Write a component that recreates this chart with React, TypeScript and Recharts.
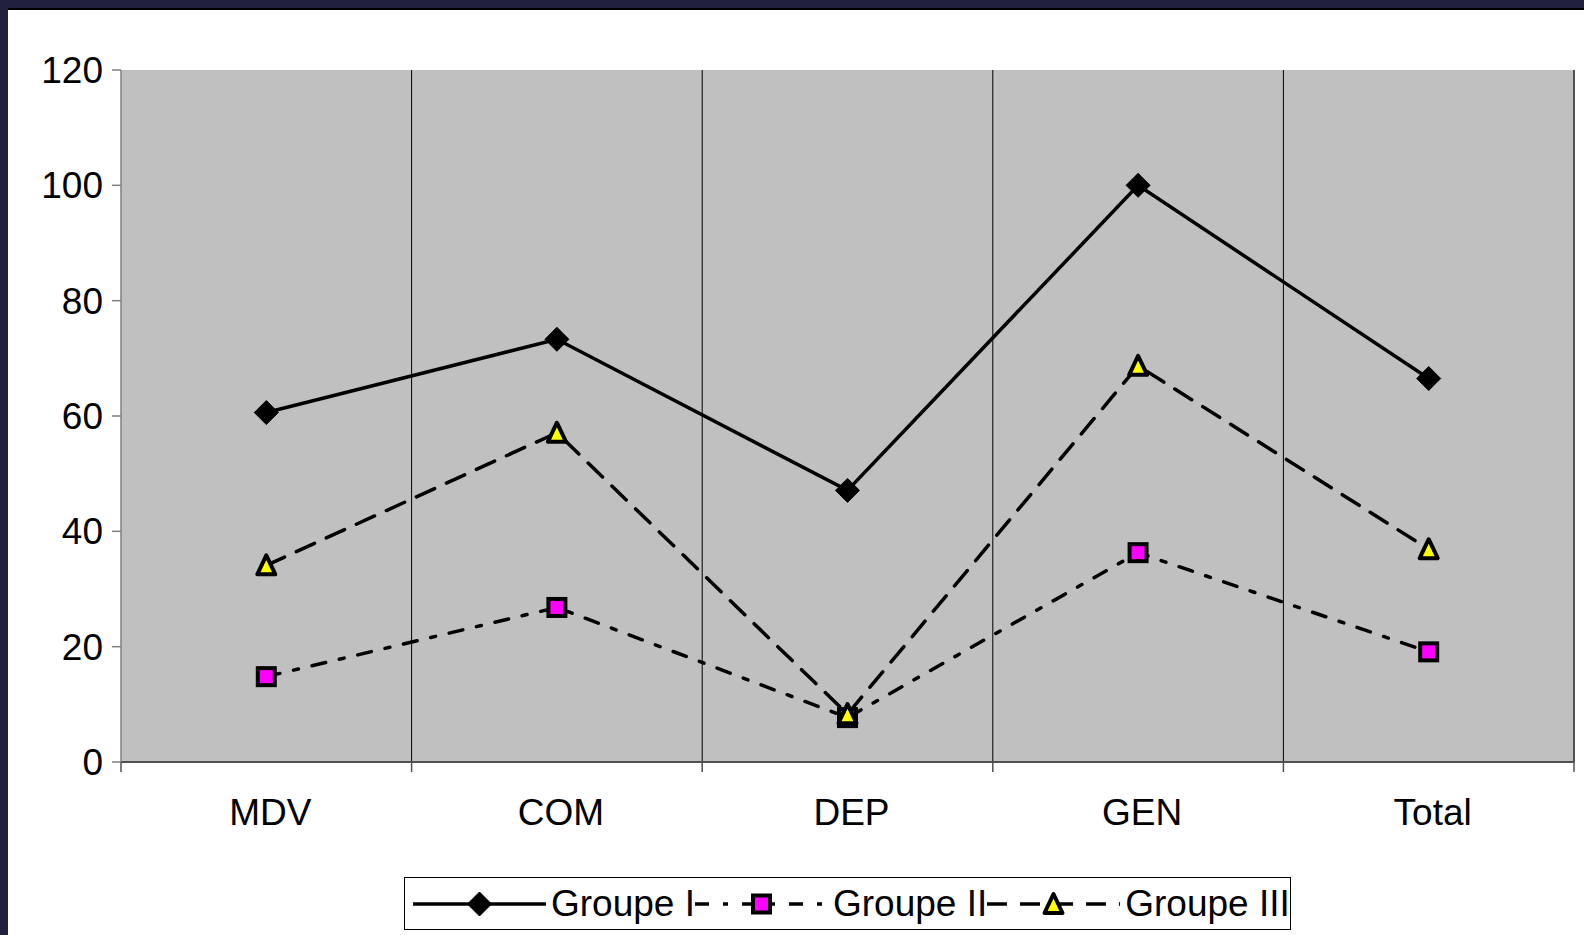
import React from 'react'
import {
  LineChart,
  Line,
  XAxis,
  YAxis,
  CartesianGrid,
  Legend,
  ReferenceLine,
} from 'recharts'

const categories = ['MDV', 'COM', 'DEP', 'GEN', 'Total']
const groupeI = [60.6, 73.3, 47.1, 100, 66.5]
const groupeII = [14.8, 26.8, 7.7, 36.3, 19.1]
const groupeIII = [34.1, 57.1, 8.3, 68.7, 36.9]
const yTicks = [0, 20, 40, 60, 80, 100, 120]

const data = categories.map((name, i) => ({
  name,
  g1: groupeI[i],
  g2: groupeII[i],
  g3: groupeIII[i],
}))

const FONT = '"Liberation Sans", Arial, sans-serif'
const LINE_W = 3.5
const AXIS_COLOR = '#505050'
const X_TICK_SIZE = 10
const X_TICK_MARGIN = 27

type DotProps = { cx?: number; cy?: number; index?: number }

const diamond = (cx: number, cy: number, key?: React.Key) => (
  <path
    key={key}
    d={`M${cx},${cy - 12}L${cx + 12},${cy}L${cx},${cy + 12}L${cx - 12},${cy}Z`}
    fill="#000"
    stroke="#000"
    strokeWidth={1}
    strokeLinejoin="round"
  />
)

const square = (cx: number, cy: number, key?: React.Key) => (
  <rect
    key={key}
    x={cx - 8.5}
    y={cy - 8.5}
    width={17}
    height={17}
    fill="#ff00ff"
    stroke="#000"
    strokeWidth={4}
  />
)

const triangle = (cx: number, cy: number, key?: React.Key) => (
  <path
    key={key}
    d={`M${cx},${cy - 10}L${cx + 9},${cy + 9}L${cx - 9},${cy + 9}Z`}
    fill="#ffff00"
    stroke="#000"
    strokeWidth={4}
    strokeLinejoin="round"
  />
)

const series = [
  { key: 'g1', name: 'Groupe I', dash: undefined, marker: diamond },
  { key: 'g2', name: 'Groupe II', dash: '14 14 5 14', marker: square },
  { key: 'g3', name: 'Groupe III', dash: '20 13', marker: triangle },
]

// label in the middle of the band, tick marks on the band edges
const CategoryTick = (props: any) => {
  const { x, y, payload, index, visibleTicksCount } = props
  const half = payload?.offset ?? 0
  const y0 = y - X_TICK_MARGIN - X_TICK_SIZE
  const mark = (px: number) => (
    <line x1={px} x2={px} y1={y0} y2={y0 + X_TICK_SIZE} stroke={AXIS_COLOR} strokeWidth={1.5} />
  )
  return (
    <g>
      {mark(x - half)}
      {index === visibleTicksCount - 1 && mark(x + half)}
      <text
        x={x + 4}
        y={y}
        dy="0.71em"
        textAnchor="middle"
        fontSize={37}
        fontFamily={FONT}
        fill="#000"
      >
        {payload.value}
      </text>
    </g>
  )
}

const renderLegend = () => (
  <div
    style={{
      display: 'flex',
      alignItems: 'center',
      height: 53,
      boxSizing: 'border-box',
      border: '1px solid #000',
      background: '#fff',
      paddingLeft: 8,
      whiteSpace: 'nowrap',
      overflow: 'hidden',
      fontFamily: FONT,
    }}
  >
    {series.map((s) => (
      <span key={s.key} style={{ display: 'flex', alignItems: 'center' }}>
        <svg width={133} height={30}>
          <line
            x1={0}
            y1={15}
            x2={133}
            y2={15}
            stroke="#000"
            strokeWidth={LINE_W}
            strokeDasharray={s.dash}
          />
          {s.marker(66.5, 15)}
        </svg>
        <span style={{ fontSize: 37, marginLeft: 5, color: '#000' }}>{s.name}</span>
      </span>
    ))}
  </div>
)

export default function App() {
  return (
    <div
      style={{
        position: 'fixed',
        top: 0,
        left: 0,
        width: 1584,
        height: 935,
        background: '#20203f',
        overflow: 'hidden',
      }}
    >
      <div
        style={{
          position: 'absolute',
          left: 8,
          top: 8,
          width: 1576,
          height: 927,
          background: '#fff',
          borderTop: '2px solid #000',
          boxSizing: 'border-box',
        }}
      >
        <LineChart
          width={1576}
          height={925}
          data={data}
          margin={{ top: 60, right: 10, left: 0, bottom: 113 }}
        >
          <CartesianGrid
            horizontal={false}
            vertical={false}
            fill="#c0c0c0"
            fillOpacity={1}
          />
          <XAxis
            dataKey="name"
            scale="band"
            height={60}
            axisLine={{ stroke: AXIS_COLOR, strokeWidth: 2 }}
            tickLine={false}
            tickSize={X_TICK_SIZE}
            tickMargin={X_TICK_MARGIN}
            interval={0}
            tick={<CategoryTick />}
          />
          <YAxis
            domain={[0, 120]}
            ticks={yTicks}
            width={113}
            tickSize={9}
            tickMargin={9}
            axisLine={{ stroke: '#808080', strokeWidth: 1.5 }}
            tickLine={{ stroke: '#808080', strokeWidth: 1.5 }}
            tick={{ fontSize: 37, fill: '#000', fontFamily: FONT }}
          />
          {categories.slice(1).map((c) => (
            <ReferenceLine key={c} x={c} position="start" stroke="#000" strokeWidth={1} />
          ))}
          <ReferenceLine
            x={categories[categories.length - 1]}
            position="end"
            stroke={AXIS_COLOR}
            strokeWidth={2}
          />
          {series.map((s) => (
            <Line
              key={s.key}
              dataKey={s.key}
              name={s.name}
              type="linear"
              stroke="#000"
              strokeWidth={LINE_W}
              strokeDasharray={s.dash}
              strokeLinecap="round"
              dot={(p: DotProps) => s.marker(p.cx ?? 0, p.cy ?? 0, `${s.key}-${p.index}`)}
              activeDot={false}
              isAnimationActive={false}
            />
          ))}
          <Legend
            verticalAlign="middle"
            layout="horizontal"
            content={renderLegend}
            wrapperStyle={{ top: 867, left: 396, width: 887, height: 53 }}
          />
        </LineChart>
      </div>
    </div>
  )
}
